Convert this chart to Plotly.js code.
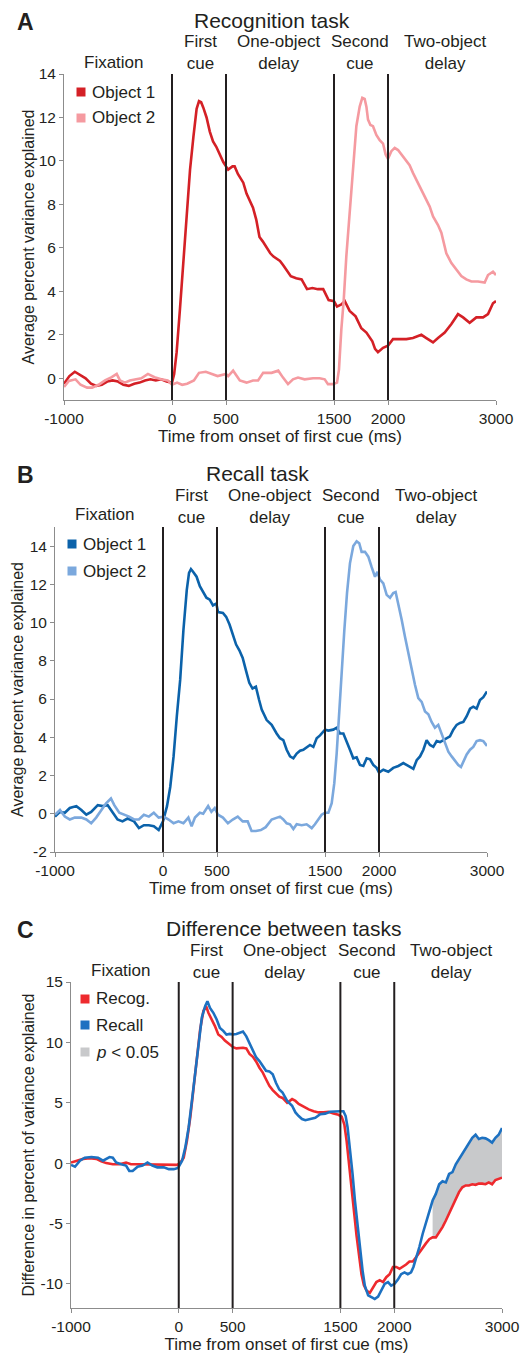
<!DOCTYPE html>
<html><head><meta charset="utf-8">
<script src="https://cdn.plot.ly/plotly-3.0.1.min.js"></script>
<style>html,body{margin:0;padding:0;background:#fff}#chart{width:528px;height:1357px}</style>
</head><body><div id="chart"></div>
<script>
// ---------------- DATA ----------------
const tickTimes = [-1000, 0, 500, 1500, 2000, 3000];
const eventTimes = [0, 500, 1500, 2000];
const phaseLabels = ['Fixation', 'First<br>cue', 'One-object<br>delay', 'Second<br>cue', 'Two-object<br>delay'];
const yTicksA = [0, 2, 4, 6, 8, 10, 12, 14];
const yTicksB = [-2, 0, 2, 4, 6, 8, 10, 12, 14];
const yTicksC = [-10, -5, 0, 5, 10, 15];

// Panel A: Recognition task
const timeRecogObj1 = [-1000,-950,-900,-850,-800,-750,-700,-650,-600,-550,-500,-450,-400,-350,-300,-250,-200,-150,-100,-50,0,20,43,74,105,136,167,198,228,250,270,290,320,350,380,410,440,475,500,520,560,580,610,660,690,720,750,780,810,840,877,910,940,970,1000,1030,1060,1100,1150,1200,1250,1300,1350,1400,1450,1500,1528,1568,1600,1645,1700,1753,1800,1855,1880,1907,1954,2000,2046,2108,2170,2231,2309,2355,2417,2463,2525,2587,2648,2695,2756,2818,2880,2926,2972,3000];
const recogObj1 = [-0.25,0.1,0.3,0.15,0,-0.25,-0.35,-0.3,-0.15,-0.1,-0.15,-0.3,-0.35,-0.25,-0.2,-0.1,-0.05,-0.1,-0.05,-0.15,-0.2,0.2,1.2,3.2,5.5,7.8,9.6,11.1,12.4,12.75,12.7,12.45,12.0,11.35,10.9,10.65,10.3,9.95,9.75,9.6,9.75,9.75,9.4,9.0,8.5,8.2,7.85,7.3,6.5,6.3,6.0,5.75,5.6,5.5,5.4,5.2,5.0,4.7,4.6,4.55,4.1,4.15,4.1,4.1,3.6,3.55,3.3,3.4,3.55,3.1,2.85,2.3,2.1,1.7,1.35,1.2,1.4,1.5,1.8,1.8,1.8,1.85,2.0,1.85,1.65,1.85,2.1,2.5,2.95,2.8,2.55,2.8,2.8,2.95,3.45,3.55];
const timeRecogObj2 = [-1000,-955,-893,-847,-786,-740,-680,-620,-558,-512,-482,-436,-390,-345,-284,-223,-162,-100,-40,0,47,94,140,203,250,313,375,422,500,520,566,628,690,750,797,844,922,984,1028,1074,1120,1167,1228,1306,1367,1414,1444,1491,1528,1546,1568,1590,1614,1645,1676,1707,1738,1762,1784,1800,1815,1837,1861,1892,1923,1954,1978,2000,2031,2062,2093,2123,2170,2200,2231,2293,2339,2386,2417,2463,2494,2540,2587,2633,2679,2725,2772,2833,2895,2926,2972,3000];
const recogObj2 = [-0.4,-0.12,-0.05,-0.3,-0.43,-0.43,-0.3,-0.1,0.05,0.2,-0.1,-0.2,-0.1,-0.05,0,0.2,0.05,-0.05,-0.1,-0.3,-0.2,-0.3,-0.25,-0.1,0.25,0.3,0.2,0.1,0.2,0.1,0.35,-0.1,-0.2,-0.1,-0.1,0.25,0.25,0.35,0.03,-0.27,-0.05,0.03,-0.05,0,0,-0.05,-0.27,-0.27,-0.2,0.4,2.25,3.6,5.6,7.75,9.9,11.6,12.5,12.9,12.85,12.5,11.9,11.65,11.6,11.2,10.95,10.8,10.3,10.1,10.45,10.6,10.5,10.3,10.0,9.8,9.45,8.8,8.35,7.9,7.45,7.05,6.7,5.75,5.3,5.0,4.7,4.55,4.45,4.45,4.4,4.75,4.9,4.75];

// Panel B: Recall task
const timeRecallObj1 = [-1000,-954,-909,-863,-802,-756,-710,-665,-604,-558,-512,-466,-421,-375,-329,-268,-223,-177,-131,-85,-40,0,37,67,98,128,159,189,220,241,259,280,311,341,372,402,433,463,494,509,555,585,616,646,677,707,738,768,799,829,860,890,914,960,1006,1052,1083,1114,1145,1176,1207,1238,1269,1299,1330,1361,1392,1423,1454,1500,1531,1577,1608,1639,1670,1701,1731,1762,1793,1824,1855,1886,1917,1947,1978,2000,2040,2086,2132,2179,2225,2271,2318,2349,2380,2411,2441,2472,2503,2534,2565,2596,2627,2657,2688,2719,2750,2781,2812,2843,2873,2904,2935,2966,3000];
const recallObj1 = [-0.15,0.1,0.05,0.3,0.4,0.2,-0.05,0.1,0.45,0.4,0.45,0.1,-0.3,-0.4,-0.25,-0.4,-0.75,-0.6,-0.6,-0.65,-0.85,-0.4,0.4,1.4,3.0,5.1,7.0,9.6,11.7,12.6,12.8,12.65,12.4,11.9,11.6,11.3,11.2,10.9,11.0,10.55,10.5,10.3,9.9,9.35,8.85,8.55,8.15,7.5,6.85,6.55,6.65,5.95,5.45,4.9,4.65,4.2,3.95,3.85,3.35,3.0,2.9,3.15,3.3,3.35,3.5,3.6,3.5,3.95,4.1,4.4,4.35,4.4,4.5,4.2,4.2,3.8,3.35,2.9,2.95,2.55,2.5,2.9,2.85,2.55,2.4,2.15,2.3,2.2,2.4,2.5,2.65,2.5,2.35,2.8,3.0,3.35,3.85,3.6,3.5,3.8,3.75,3.85,3.95,4.05,4.4,4.65,4.75,4.8,5.1,5.5,5.6,5.5,5.95,6.1,6.4];
const timeRecallObj2 = [-1000,-954,-909,-863,-817,-756,-710,-665,-619,-573,-527,-482,-451,-405,-360,-314,-268,-223,-177,-131,-85,-40,6,52,98,143,189,235,265,296,341,372,418,448,479,509,555,601,646,692,738,784,820,860,906,951,1006,1052,1083,1114,1145,1176,1207,1238,1284,1330,1377,1407,1438,1469,1500,1531,1562,1586,1608,1630,1654,1679,1704,1731,1762,1793,1817,1839,1870,1901,1932,1963,1985,2009,2040,2071,2102,2132,2154,2179,2210,2241,2271,2302,2333,2364,2395,2426,2457,2487,2518,2549,2580,2611,2642,2673,2703,2734,2759,2781,2812,2843,2873,2904,2935,2966,3000];
const recallObj2 = [-0.05,0.2,-0.15,-0.3,-0.2,-0.2,-0.3,-0.5,-0.2,0.2,0.55,0.8,0.45,0.05,-0.05,-0.15,-0.3,-0.3,-0.05,-0.15,0.05,-0.2,-0.15,-0.3,-0.5,-0.4,-0.5,-0.2,-0.65,-0.2,0.05,0,0.4,0.1,0.3,-0.05,-0.2,-0.5,-0.3,-0.15,-0.4,-0.4,-0.9,-0.9,-0.85,-0.7,-0.3,-0.2,-0.15,-0.3,-0.5,-0.55,-0.8,-0.55,-0.6,-0.55,-0.75,-0.55,-0.3,-0.05,0.05,0.05,0.55,1.6,3.15,5.25,7.5,9.6,11.55,13.1,14.0,14.25,14.15,13.7,13.7,13.45,12.9,12.4,12.65,12.25,12.05,11.45,11.3,11.55,11.6,11.0,10.15,9.25,8.4,7.5,6.75,6.05,5.85,5.35,5.2,4.8,4.5,4.65,4.2,3.7,3.25,3.0,2.8,2.55,2.45,2.75,3.1,3.35,3.5,3.8,3.85,3.8,3.55];

// Panel C: Difference between tasks
const timeDiffRecog = [-1000,-948,-887,-826,-765,-719,-673,-612,-550,-489,-443,-382,-321,-260,-199,-138,-76,-15,15,46,76,107,138,168,199,229,254,275,306,336,367,398,428,459,505,535,566,596,627,657,688,719,749,780,810,841,872,902,933,963,1006,1052,1083,1113,1160,1206,1252,1298,1344,1390,1436,1482,1512,1537,1558,1583,1604,1629,1650,1675,1696,1718,1742,1773,1804,1834,1865,1896,1926,1957,1988,2018,2049,2080,2110,2141,2172,2202,2233,2264,2294,2325,2356,2386,2417,2448,2479,2509,2540,2571,2601,2632,2663,2693,2724,2755,2785,2816,2847,2877,2908,2939,2969,3000];
const diffRecog = [0.05,0.2,0.35,0.4,0.35,0.15,0,-0.1,-0.1,0.05,-0.1,-0.1,-0.1,-0.1,-0.15,-0.1,-0.1,-0.15,0.05,0.45,1.85,3.8,6.25,8.75,11.1,12.6,13.0,12.45,11.9,11.35,10.65,10.45,10.15,9.9,9.6,9.5,9.55,9.55,9.5,9.05,8.8,8.4,7.9,7.5,6.95,6.4,6.05,5.75,5.5,5.4,5.0,5.3,5.15,4.9,4.65,4.45,4.3,4.2,4.2,4.25,4.1,4.0,3.85,3.2,1.85,-0.1,-2.0,-4.2,-6.0,-7.8,-9.2,-10.1,-10.55,-10.75,-10.3,-9.85,-9.7,-9.85,-9.45,-9.2,-8.6,-8.6,-8.75,-8.6,-8.4,-8.15,-8.15,-7.8,-7.4,-6.95,-6.65,-6.3,-6.15,-6.15,-5.75,-5.3,-4.75,-4.2,-3.55,-3.0,-2.4,-2.0,-1.85,-1.85,-1.75,-1.8,-1.7,-1.7,-1.75,-1.6,-1.75,-1.4,-1.3,-1.2];
const timeDiffRecall = [-1000,-963,-917,-872,-810,-749,-703,-673,-642,-612,-581,-535,-489,-459,-428,-382,-336,-290,-245,-199,-138,-92,-46,-6,31,61,92,122,153,183,214,245,266,290,321,352,382,413,443,474,505,535,566,596,627,657,688,719,749,780,810,841,872,902,933,963,1006,1052,1083,1113,1144,1175,1221,1267,1313,1359,1405,1451,1497,1528,1549,1567,1589,1613,1635,1660,1681,1706,1727,1758,1788,1819,1850,1880,1911,1942,1972,2003,2034,2064,2095,2126,2156,2178,2202,2233,2264,2294,2325,2356,2386,2417,2448,2479,2509,2540,2571,2601,2632,2663,2693,2724,2755,2785,2816,2847,2877,2908,2939,2969,3000];
const diffRecall = [-0.15,-0.3,0.2,0.45,0.5,0.45,0.2,0.35,0.5,0.45,0.05,-0.1,-0.2,-0.65,-0.65,-0.3,-0.2,0.05,-0.2,-0.35,-0.35,-0.5,-0.5,-0.4,0.2,1.3,2.95,5.15,7.6,10.1,12.05,13.0,13.4,12.85,12.45,11.9,11.2,10.95,10.65,10.7,10.65,10.7,10.8,10.9,10.5,9.95,9.3,8.75,8.45,8.05,7.65,7.6,7.35,6.65,6.1,5.85,5.15,4.75,4.2,3.9,3.65,3.55,3.65,3.75,4.05,4.1,4.25,4.3,4.3,4.3,3.9,2.95,1.3,-0.9,-3.1,-5.3,-7.25,-8.9,-10.15,-10.95,-11.1,-11.25,-11.05,-10.55,-10.0,-9.85,-10.15,-10.0,-9.65,-9.2,-9.05,-9.2,-9.05,-8.6,-7.95,-6.95,-5.85,-4.9,-3.95,-3.1,-2.55,-1.75,-1.5,-1.6,-0.9,-0.75,-0.1,0.35,0.75,1.3,1.7,2.1,2.35,2.0,2.1,2.05,1.9,1.7,2.1,2.35,2.9];
const sigStart = 2350; // start of p < 0.05 interval

// ---------------- STYLE ----------------
const W = 528, H = 1357;
const FONT = '"Liberation Sans", Arial, Helvetica, sans-serif';
const INK = '#231f20';
const AXC = '#8c8c8c';
const colors = {
  recog1: '#d42026', recog2: '#f59aa0',
  recall1: '#0b62aa', recall2: '#7ba8dd',
  diffRecog: '#ee2a2e', diffRecall: '#1d71c1', sig: '#c8c9cb'
};
const fx = p => p / W;
const fy = p => 1 - p / H;

const panels = [
  {id: '', letter: 'A', title: 'Recognition task', titleX: 272, left: 64, right: 496, top: 74, bottom: 400,
   yrange: [-1, 14], yticks: yTicksA, ytitle: 'Average percent variance explained', ystand: 0,
   legend: [{name: 'Object 1', color: colors.recog1}, {name: 'Object 2', color: colors.recog2}],
   legX: 81, legY: [92, 118]},
  {id: '2', letter: 'B', title: 'Recall task', titleX: 257, left: 55, right: 487, top: 527, bottom: 852,
   yrange: [-2, 15], yticks: yTicksB, ytitle: 'Average percent variance explained', ystand: 2,
   legend: [{name: 'Object 1', color: colors.recall1}, {name: 'Object 2', color: colors.recall2}],
   legX: 72, legY: [544, 571]},
  {id: '3', letter: 'C', title: 'Difference between tasks', titleX: 283, left: 71, right: 502, top: 982, bottom: 1308,
   yrange: [-12, 15], yticks: yTicksC, ytitle: 'Difference in percent of variance explained', ystand: 1,
   legend: [{name: 'Recog.', color: colors.diffRecog}, {name: 'Recall', color: colors.diffRecall}, {name: '<i>p</i> &lt; 0.05', color: colors.sig}],
   legX: 85, legY: [999, 1025, 1052]}
];
const phaseX = [-540, 260, 985, 1745, 2525];

const line = (x, y, color, ax) => ({
  type: 'scatter', mode: 'lines', x, y, xaxis: 'x' + ax, yaxis: 'y' + ax,
  line: {color, width: 2.6}, hoverinfo: 'skip', showlegend: false
});

const traces = [];
traces.push(line(timeRecogObj1, recogObj1, colors.recog1, ''));
traces.push(line(timeRecogObj2, recogObj2, colors.recog2, ''));
traces.push(line(timeRecallObj1, recallObj1, colors.recall1, '2'));
traces.push(line(timeRecallObj2, recallObj2, colors.recall2, '2'));

// significance band
const lowX = [], lowY = [], hiX = [], hiY = [];
timeDiffRecog.forEach((t, i) => { if (t >= sigStart) { lowX.push(t); lowY.push(diffRecog[i]); } });
timeDiffRecall.forEach((t, i) => { if (t >= sigStart) { hiX.push(t); hiY.push(diffRecall[i]); } });
traces.push({type: 'scatter', mode: 'lines', x: lowX, y: lowY, xaxis: 'x3', yaxis: 'y3',
  line: {width: 0, color: colors.sig}, hoverinfo: 'skip', showlegend: false});
traces.push({type: 'scatter', mode: 'lines', x: hiX, y: hiY, xaxis: 'x3', yaxis: 'y3',
  fill: 'tonexty', fillcolor: colors.sig, line: {width: 0, color: colors.sig}, hoverinfo: 'skip', showlegend: false});
traces.push(line(timeDiffRecog, diffRecog, colors.diffRecog, '3'));
traces.push(line(timeDiffRecall, diffRecall, colors.diffRecall, '3'));

const layout = {
  width: W, height: H, margin: {l: 0, r: 0, t: 0, b: 0},
  paper_bgcolor: '#ffffff', plot_bgcolor: 'rgba(0,0,0,0)', showlegend: false,
  font: {family: FONT, size: 15, color: INK},
  shapes: [], annotations: []
};

panels.forEach(p => {
  const xk = 'xaxis' + p.id, yk = 'yaxis' + p.id;
  layout[xk] = {
    domain: [fx(p.left), fx(p.right)], anchor: 'y' + p.id, range: [-1000, 3000],
    tickvals: tickTimes, ticktext: tickTimes.map(String),
    ticks: 'outside', ticklen: 4, tickcolor: AXC, showline: true, linecolor: AXC, linewidth: 1,
    showgrid: false, zeroline: false, automargin: false, fixedrange: true,
    tickfont: {size: 15.5, color: INK},
    title: {text: 'Time from onset of first cue (ms)', font: {size: 17, color: INK}, standoff: 2}
  };
  layout[yk] = {
    domain: [fy(p.bottom), fy(p.top)], anchor: 'x' + p.id, range: p.yrange,
    tickvals: p.yticks, ticktext: p.yticks.map(String),
    ticks: 'outside', ticklen: 4, tickcolor: AXC, showline: true, linecolor: AXC, linewidth: 1,
    showgrid: false, zeroline: false, automargin: false, fixedrange: true,
    tickfont: {size: 15.5, color: INK},
    title: {text: p.ytitle, font: {size: 16, color: INK}, standoff: p.ystand}
  };
  eventTimes.forEach(t => layout.shapes.push({
    type: 'line', xref: 'x' + p.id, yref: 'y' + p.id + ' domain', x0: t, x1: t, y0: 0, y1: 1,
    line: {color: INK, width: 2}
  }));
  // panel letter and title
  layout.annotations.push({xref: 'paper', yref: 'paper', x: fx(25), y: fy(p.top - 52), text: '<b>' + p.letter + '</b>',
    showarrow: false, xanchor: 'center', yanchor: 'middle', font: {size: 23, color: INK}});
  layout.annotations.push({xref: 'paper', yref: 'paper', x: fx(p.titleX), y: fy(p.top - 54), text: p.title,
    showarrow: false, xanchor: 'center', yanchor: 'middle', font: {size: 21, color: INK}});
  // phase labels
  phaseLabels.forEach((lab, i) => {
    const two = lab.indexOf('<br>') >= 0;
    layout.annotations.push({xref: 'x' + p.id, yref: 'paper', x: phaseX[i], y: fy(p.top - (two ? 21 : 12)), text: lab,
      showarrow: false, xanchor: 'center', yanchor: 'middle', font: {size: 17, color: INK}});
  });
  // custom legend
  p.legend.forEach((it, i) => {
    const cy = p.legY[i], cx = p.legX, h = 4.5;
    layout.shapes.push({type: 'rect', xref: 'paper', yref: 'paper', x0: fx(cx - h), x1: fx(cx + h), y0: fy(cy + h), y1: fy(cy - h),
      fillcolor: it.color, line: {width: 0}});
    layout.annotations.push({xref: 'paper', yref: 'paper', x: fx(cx + 9), y: fy(cy), text: it.name,
      showarrow: false, xanchor: 'left', yanchor: 'middle', font: {size: 17, color: INK}});
  });
});

Plotly.newPlot('chart', traces, layout, {staticPlot: true, displayModeBar: false});
</script>
</body></html>
